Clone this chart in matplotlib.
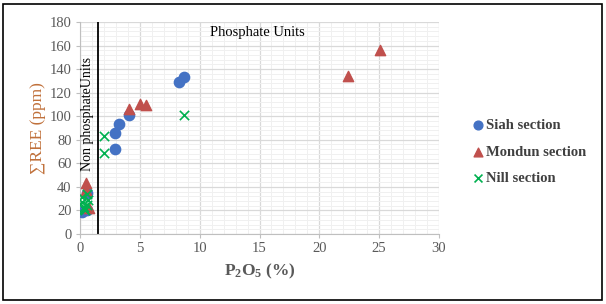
import matplotlib
matplotlib.use("Agg")
import matplotlib.pyplot as plt
from matplotlib.ticker import MultipleLocator
from matplotlib.patches import Rectangle

plt.rcParams['font.family'] = ['Liberation Serif', 'DejaVu Serif']
plt.rcParams['mathtext.fontset'] = 'custom'
plt.rcParams['mathtext.rm'] = 'Liberation Serif:bold'
plt.rcParams['mathtext.it'] = 'Liberation Serif:bold'
plt.rcParams['mathtext.bf'] = 'Liberation Serif:bold'

# Data
siah_x = [0.15, 0.55, 0.6, 2.95, 2.95, 3.28, 4.1, 8.27, 8.66]
siah_y = [18.7, 20, 35, 71.9, 85.5, 93.4, 101, 128.8, 133]
mondun_x = [0.47, 0.5, 0.78, 4.1, 5.03, 5.5, 22.36, 25.1]
mondun_y = [43, 37, 22, 105.8, 110.4, 109.8, 134, 156]
nill_x = [0.15, 0.6, 0.15, 0.7, 0.3, 0.6, 0.35, 0.45, 2.03, 2.03, 8.66]
nill_y = [31, 34, 27, 29, 23, 25, 21, 20, 83, 69, 101]

labels = ['Siah section', 'Mondun section', 'Nill section']
boundary_x = 1.5

fig = plt.figure(figsize=(6.06, 3.04), dpi=100)
ax = fig.add_axes([80/606, 1 - 234/304, 359/606, 212/304])

ax.set_xlim(0, 30)
ax.set_ylim(0, 180)
ax.xaxis.set_major_locator(MultipleLocator(5))
ax.xaxis.set_minor_locator(MultipleLocator(1))
ax.yaxis.set_major_locator(MultipleLocator(20))
ax.yaxis.set_minor_locator(MultipleLocator(4))
ax.grid(which='major', color='#d9d9d9', linewidth=0.9, zorder=0)
ax.grid(which='minor', color='#f0f0f0', linewidth=0.7, zorder=0)
ax.set_axisbelow(True)
for s in ['top', 'right']:
    ax.spines[s].set_visible(False)
for s in ['left', 'bottom']:
    ax.spines[s].set_color('#bfbfbf')
ax.tick_params(which='major', length=3, color='#bfbfbf', labelsize=10.5,
               labelcolor='#595959', pad=3)
ax.tick_params(which='minor', length=0)

ax.axvline(boundary_x, color='black', linewidth=1.3, zorder=2)

ax.scatter(siah_x, siah_y, marker='o', s=55, color='#4472C4', zorder=3,
           label=labels[0])
ax.scatter(mondun_x, mondun_y, marker='^', s=55, color='#C0504D', zorder=3,
           label=labels[1])
ax.scatter(nill_x, nill_y, marker='x', s=45, color='#00B050', linewidths=1.2,
           zorder=4, label=labels[2])

ax.text(10.9, 171.5, 'Phosphate Units', fontsize=10.5, color='black',
        va='center', ha='left')
ax.text(0.63, 102, 'Non phosphateUnits', fontsize=10, color='black',
        rotation=90, va='center', ha='center')

ax.set_xlabel(r'P$_2$O$_5$ (%)', fontsize=12.5, fontweight='bold',
              color='#595959', labelpad=5)
ax.set_ylabel('∑REE (ppm)', fontsize=12.5, color='#C0703A', labelpad=3)

leg = fig.legend(loc='center left', bbox_to_anchor=(466/606, 1 - 152/304),
                 frameon=False, handletextpad=0.05, labelspacing=0.9,
                 handlelength=0.9, borderaxespad=0, markerscale=0.85,
                 prop={'family': ['Liberation Serif'], 'weight': 'bold',
                       'size': 10.5})
for t in leg.get_texts():
    t.set_color('#404040')

fig.patches.append(Rectangle((3/606, 4/304), 599/606, 296/304,
                             transform=fig.transFigure, fill=False,
                             edgecolor='black', linewidth=1.2))

fig.savefig('out.png', dpi=100)
